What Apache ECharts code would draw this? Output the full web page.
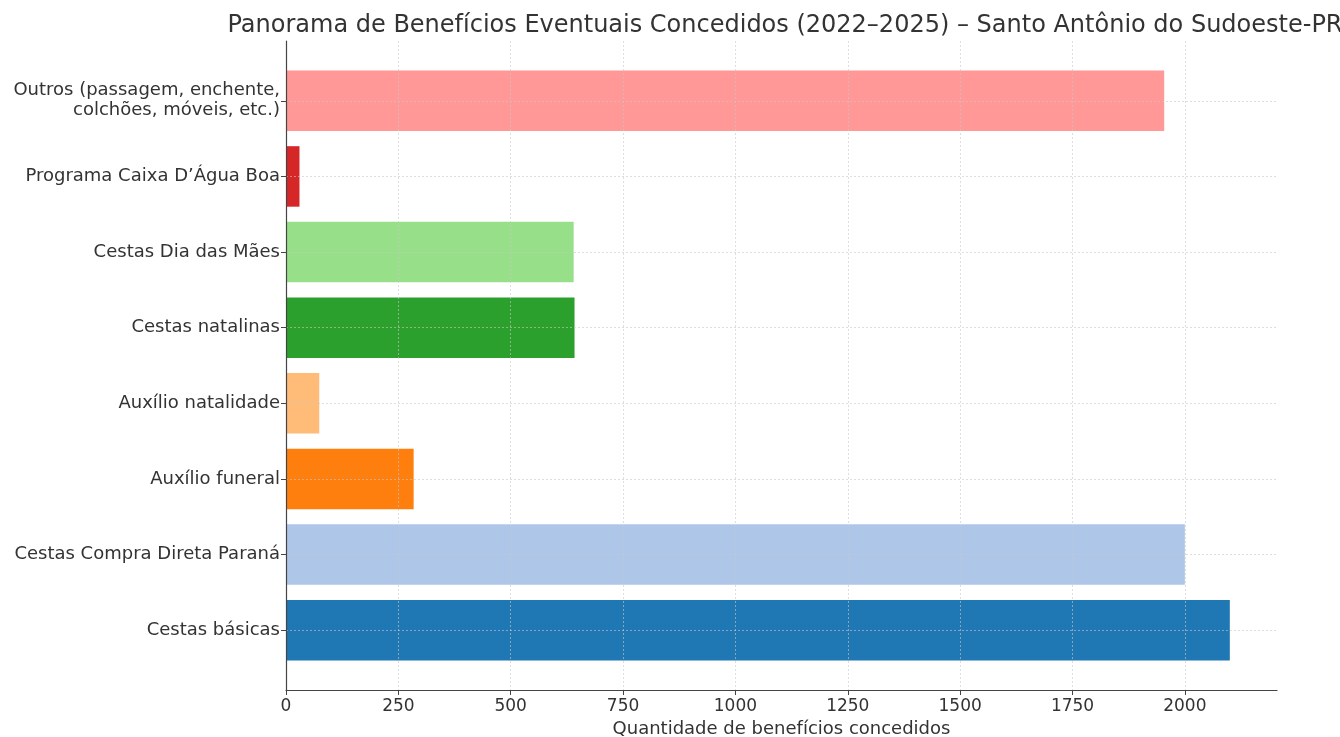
<!DOCTYPE html>
<html>
<head>
<meta charset="utf-8">
<title>Benefícios Eventuais</title>
<script src="https://cdn.jsdelivr.net/npm/echarts@6/dist/echarts.min.js"></script>
</head>
<body style="margin:0;background:#fff;">
<div id="chart" style="width:1340px;height:737px;"></div>
<script type="text/javascript">
// dados (de baixo para cima)
var categorias = [
    'Cestas básicas',
    'Cestas Compra Direta Paraná',
    'Auxílio funeral',
    'Auxílio natalidade',
    'Cestas natalinas',
    'Cestas Dia das Mães',
    'Programa Caixa D’Água Boa',
    'Outros (passagem, enchente,\ncolchões, móveis, etc.)'
];
var valores = [2100, 2000, 284, 74, 642, 640, 30, 1954];
var cores = ['#1f77b4', '#aec7e8', '#ff7f0e', '#ffbb78', '#2ca02c', '#98df8a', '#d62728', '#ff9896'];
var ticksX = [0, 250, 500, 750, 1000, 1250, 1500, 1750, 2000];

var fonte = 'DejaVu Sans';
var maxX = 2205;
var corGrade = 'rgba(200,200,200,0.6)';

var myChart = echarts.init(document.getElementById('chart'));
var option = {
    animation: false,
    title: {
        text: 'Panorama de Benefícios Eventuais Concedidos (2022–2025) – Santo Antônio do Sudoeste-PR',
        left: 780, top: 9, textAlign: 'center',
        textStyle: { fontFamily: fonte, fontSize: 24, fontWeight: 'normal', color: '#333' }
    },
    grid: [
        // barras
        { left: 286, right: 63, top: 63, bottom: 69, outerBoundsMode: 'none', containLabel: false },
        // moldura (eixos)
        { left: 286, right: 63, top: 41, bottom: 47, outerBoundsMode: 'none', containLabel: false }
    ],
    xAxis: [
        { gridIndex: 0, type: 'value', min: 0, max: maxX, show: false },
        {
            gridIndex: 1, type: 'value', min: 0, max: maxX, interval: 250, z: 3,
            name: 'Quantidade de benefícios concedidos',
            nameLocation: 'middle', nameGap: 30,
            nameTextStyle: { fontFamily: fonte, fontSize: 18, color: '#333' },
            axisLine: { show: true, lineStyle: { color: '#444', width: 1.2 } },
            axisTick: { show: true, length: 5, lineStyle: { color: '#444' } },
            axisLabel: {
                fontFamily: fonte, fontSize: 17, color: '#333', margin: 8, showMaxLabel: false,
                formatter: function (v) { return ticksX.indexOf(v) >= 0 ? String(v) : ''; }
            },
            splitLine: { show: true, showMinLine: false, showMaxLine: false, lineStyle: { color: corGrade, type: [2, 2], width: 1 } }
        }
    ],
    yAxis: [
        {
            gridIndex: 0, type: 'category', data: categorias, z: 3,
            axisLine: { show: false },
            axisTick: { show: true, alignWithLabel: true, length: 5, lineStyle: { color: '#444' } },
            axisLabel: { fontFamily: fonte, fontSize: 18, color: '#333', margin: 6, lineHeight: 20, align: 'right', padding: [4, 0, 0, 0] },
            splitLine: { show: true, alignWithLabel: true, lineStyle: { color: corGrade, type: [2, 2], width: 1 } }
        },
        {
            gridIndex: 1, type: 'value', min: 0, max: 1, z: 4,
            axisLine: { show: true, lineStyle: { color: '#444', width: 1.2 } },
            axisTick: { show: false }, axisLabel: { show: false }, splitLine: { show: false }
        }
    ],
    series: [{
        type: 'bar',
        xAxisIndex: 0, yAxisIndex: 0,
        barWidth: '80%',
        data: valores.map(function (v, i) {
            return { value: v, itemStyle: { color: cores[i] } };
        })
    }]
};
myChart.setOption(option);
</script>
</body>
</html>
